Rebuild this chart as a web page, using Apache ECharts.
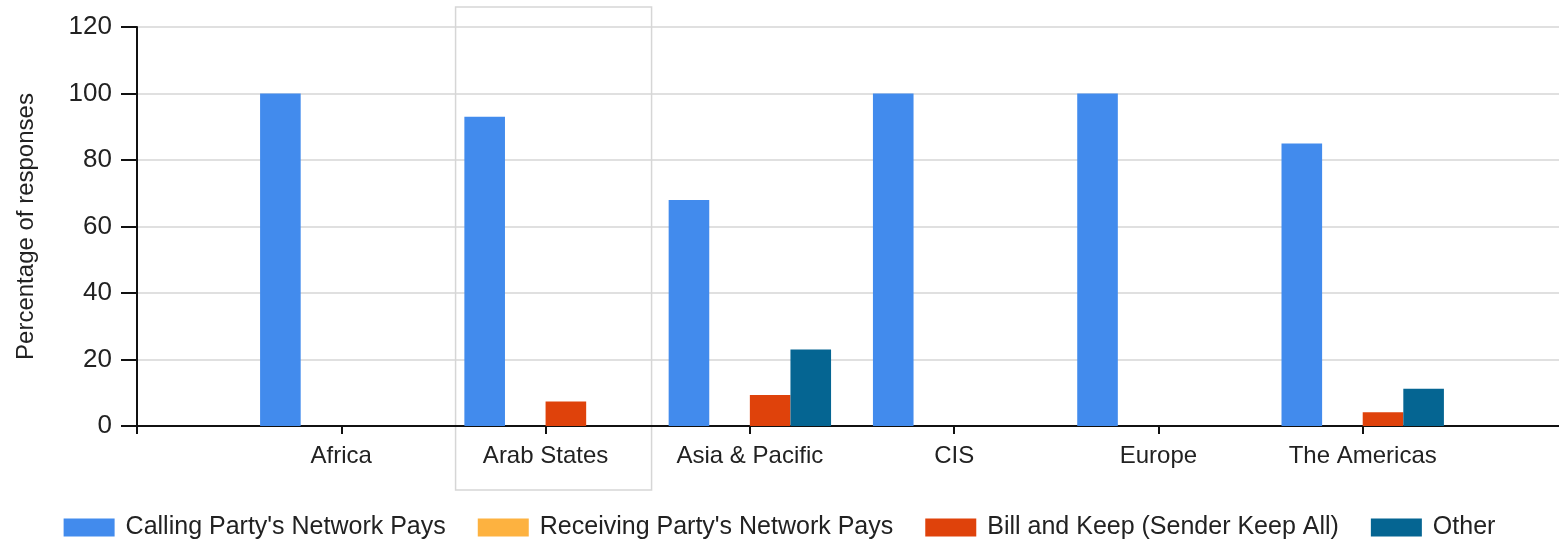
<!DOCTYPE html>
<html>
<head>
<meta charset="utf-8">
<script src="https://cdn.jsdelivr.net/npm/echarts@6/dist/echarts.min.js"></script>
<style>
  html, body { margin: 0; padding: 0; background: #fff; }
  #chart { width: 1559px; height: 540px; }
</style>
</head>
<body>
<div id="chart"></div>
<script>
// regions (x axis)
const regions = ['Africa', 'Arab States', 'Asia & Pacific', 'CIS', 'Europe', 'The Americas']
// percentage of responses per regime
const callingPays = [100, 93, 68, 100, 100, 85]
const receivingPays = [0, 0, 0, 0, 0, 0]
const billAndKeep = [0, 7.4, 9.3, 0, 0, 4.1]
const other = [0, 0, 23, 0, 0, 11.2]
const yTicks = [0, 20, 40, 60, 80, 100, 120]

const seriesNames = ["Calling Party's Network Pays", "Receiving Party's Network Pays", 'Bill and Keep (Sender Keep All)', 'Other']
const seriesColors = ['#428bed', '#fdb240', '#df420b', '#056592']

// the original axis has an empty slot at both ends, the region labels sit on the ticks
const axisData = [''].concat(regions, [''])
const pad = (arr) => ['-'].concat(arr, ['-'])

const font = 'Liberation Sans, Arial, sans-serif'
const chart = echarts.init(document.getElementById('chart'))

const option = {
  animation: false,
  grid: {
    left: 137,
    width: 1430,
    top: 27,
    bottom: 114,
    // keep the grid where it is, the axis runs past the right edge
    outerBoundsMode: 'none'
  },
  legend: {
    bottom: -5,
    left: 'center',
    itemWidth: 51,
    itemHeight: 18,
    itemGap: 32,
    icon: 'rect',
    textStyle: { fontFamily: font, fontSize: 25, color: '#222', padding: [0, 0, 0, 6] },
    data: seriesNames
  },
  xAxis: {
    type: 'category',
    data: axisData,
    boundaryGap: false,
    axisLine: { lineStyle: { color: '#111', width: 2 } },
    axisTick: { show: true, length: 8, lineStyle: { color: '#111', width: 2 } },
    axisLabel: { interval: 0, margin: 18, fontFamily: font, fontSize: 24, color: '#222' },
    splitLine: { show: false }
  },
  yAxis: {
    type: 'value',
    min: yTicks[0],
    max: yTicks[yTicks.length - 1],
    interval: yTicks[1] - yTicks[0],
    name: 'Percentage of responses',
    nameLocation: 'middle',
    nameGap: 99,
    nameTextStyle: { fontFamily: font, fontSize: 24, color: '#222' },
    axisLine: { show: true, lineStyle: { color: '#111', width: 2 } },
    axisTick: { show: true, length: 16, lineStyle: { color: '#111', width: 2 } },
    axisLabel: { margin: 25, fontFamily: font, fontSize: 26, color: '#222' },
    splitLine: { lineStyle: { color: '#e0e0e0', width: 2 } }
  },
  series: [callingPays, receivingPays, billAndKeep, other].map((values, i) => ({
    name: seriesNames[i],
    type: 'bar',
    data: pad(values),
    barGap: '0%',
    barCategoryGap: '20.5%',
    itemStyle: { color: seriesColors[i] }
  }))
}
chart.setOption(option)

// grey frame around the selected category (Arab States)
const cx = chart.convertToPixel({ xAxisIndex: 0 }, 'Arab States')
chart.setOption({
  graphic: [{
    type: 'rect',
    shape: { x: cx - 90, y: 7, width: 196, height: 483 },
    style: { fill: 'none', stroke: '#d6d6d6', lineWidth: 1.5 },
    silent: true
  }]
})
</script>
</body>
</html>
